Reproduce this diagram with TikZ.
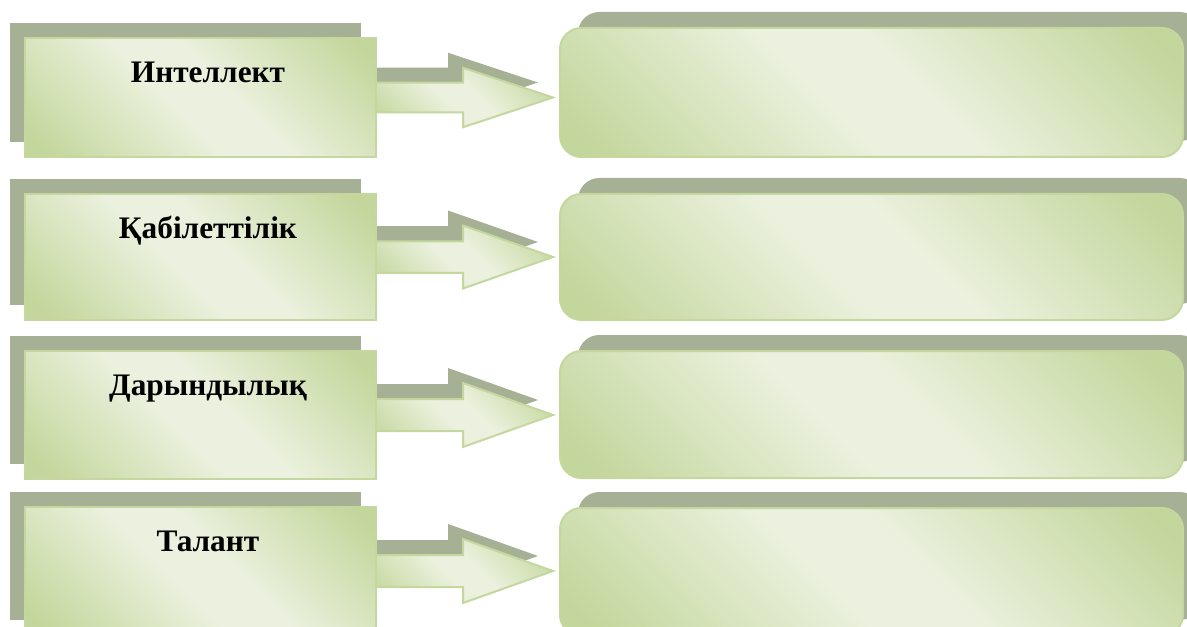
\documentclass[tikz,border=0pt]{standalone}
\usepackage{fontspec}
\setmainfont{Liberation Serif}
\definecolor{shade}{RGB}{166,176,148}
\definecolor{olivelight}{RGB}{235,241,222}
\definecolor{olivedark}{RGB}{195,214,155}
\definecolor{oliveline}{RGB}{196,215,158}
\pgfdeclarehorizontalshading{olivesheen}{100bp}{color(0bp)=(olivedark); color(18bp)=(olivedark); color(45bp)=(olivelight); color(55bp)=(olivelight); color(82bp)=(olivedark); color(100bp)=(olivedark)}
\tikzset{
  backshade/.style={fill=shade},
  sheen/.style={shading=olivesheen, shading angle=45, draw=oliveline, line width=1.5pt},
  caption/.style={font=\bfseries\fontsize{23.5}{28}\selectfont, anchor=base}
}

\begin{document}
\begin{tikzpicture}[x=0.75pt, y=-0.75pt]
  \clip (0,0) rectangle (1187,627);
  \foreach \t/\h/\rt/\rh/\n/\word in {38/119/28/129/1/Интеллект, 194/126/194/126/2/Қабілеттілік, 351/128/351/127/3/Дарындылық, 507/128/508/128/4/Талант}{
    \pgfmathsetmacro\c{\t+\h/2}
    \pgfmathsetmacro\hh{\h/4}
    \pgfmathsetmacro\hs{\h/8}
    % shadows, up and to the side
    \fill[backshade] (10,\t-15) rectangle (361,\t+\h-15);
    \fill[backshade] (361,\c-\hs-15) -- (448,\c-\hs-15) -- (448,\c-\hh-15) -- (538,\c-15) -- (448,\c+\hh-15) -- (448,\c+\hs-15) -- (361,\c+\hs-15) -- cycle;
    \fill[backshade, rounded corners=16pt] (578,\rt-16) rectangle (1201,\rt+\rh-16);
    % arrow first, boxes on top
    \draw[sheen] (370,\c-\hs) -- (463,\c-\hs) -- (463,\c-\hh) -- (553,\c) -- (463,\c+\hh) -- (463,\c+\hs) -- (370,\c+\hs) -- cycle;
    \draw[sheen] (25,\t) rectangle (376,\t+\h);
    \draw[sheen, rounded corners=16pt] (560,\rt) rectangle (1183,\rt+\rh);
    \node[caption] (w\n) at (208,\t+44.5) {\word};
  }
\end{tikzpicture}
\end{document}
